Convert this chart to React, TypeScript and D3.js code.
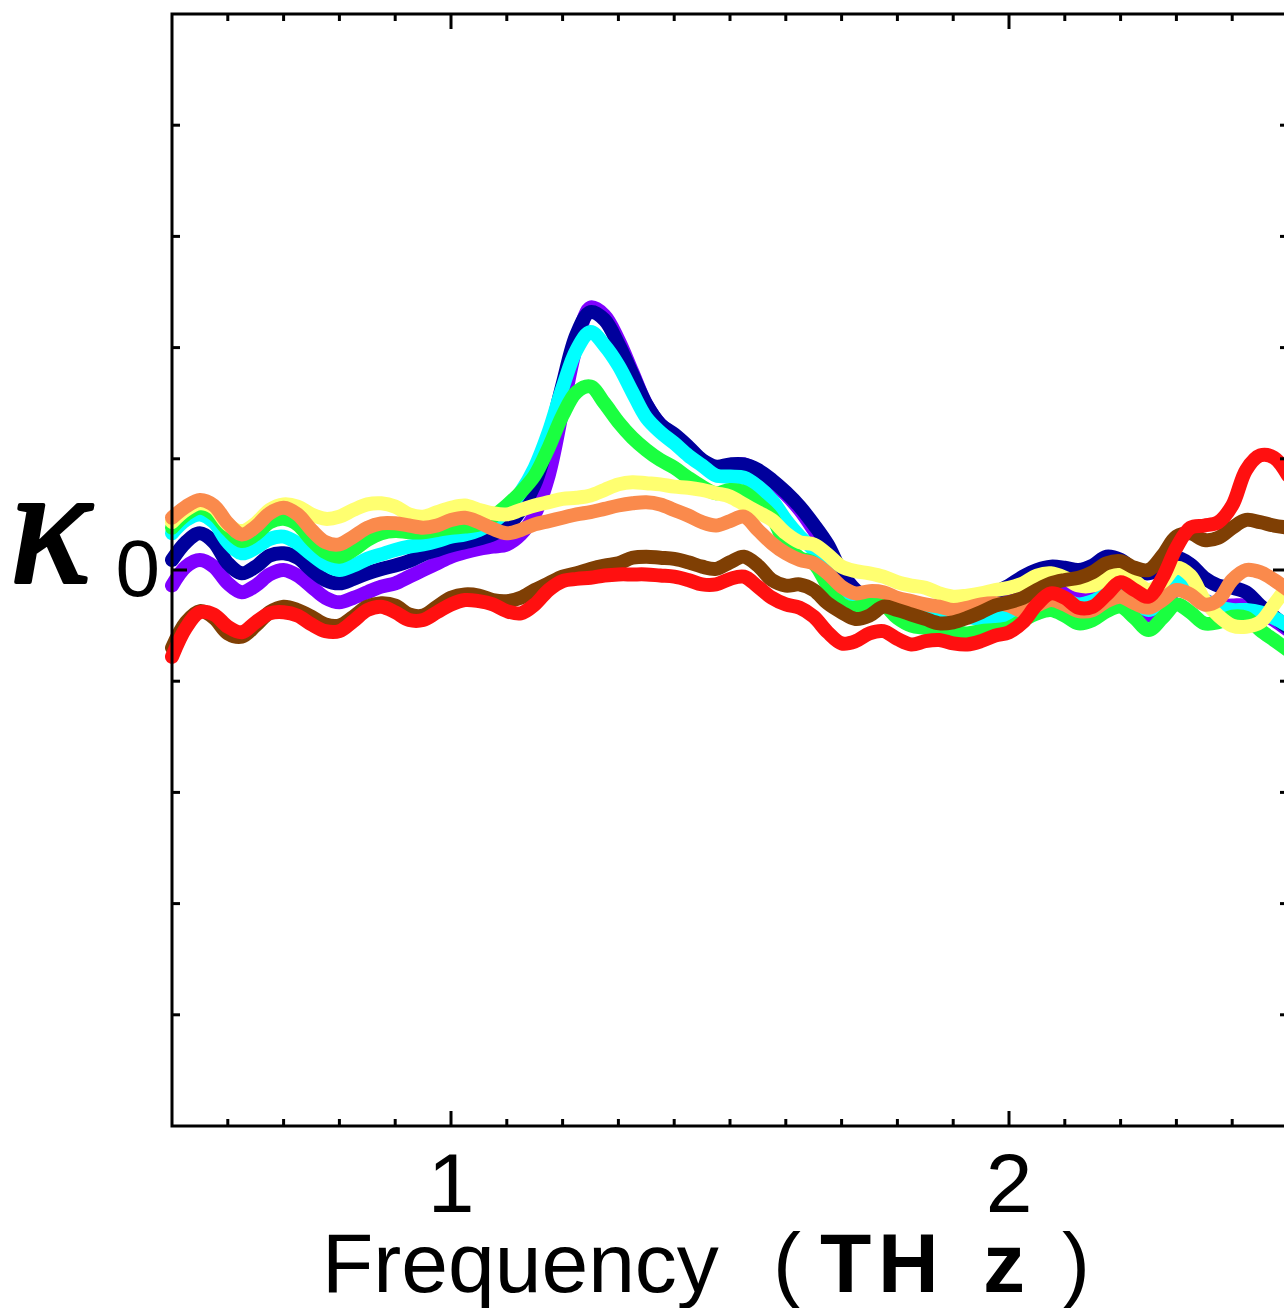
import React from 'react';
import * as d3 from 'd3';

// Frequency sampling grid (THz)
const frequency = [
  0.5, 0.525, 0.55, 0.575, 0.6, 0.625, 0.65, 0.675, 0.7, 0.725,
  0.75, 0.775, 0.8, 0.825, 0.85, 0.875, 0.9, 0.925, 0.95, 0.975,
  1.0, 1.025, 1.05, 1.075, 1.1, 1.125, 1.15, 1.175, 1.2, 1.225,
  1.25, 1.275, 1.3, 1.325, 1.35, 1.375, 1.4, 1.425, 1.45, 1.475,
  1.5, 1.525, 1.55, 1.575, 1.6, 1.625, 1.65, 1.675, 1.7, 1.725,
  1.75, 1.775, 1.8, 1.825, 1.85, 1.875, 1.9, 1.925, 1.95, 1.975,
  2.0, 2.025, 2.05, 2.075, 2.1, 2.125, 2.15, 2.175, 2.2, 2.225,
  2.25, 2.275, 2.3, 2.325, 2.35, 2.375, 2.4, 2.425, 2.45, 2.475,
  2.5,
];

const purple = [
  -0.14, 0.03, 0.09, 0.03, -0.12, -0.20, -0.14, -0.04, 0, -0.05,
  -0.15, -0.25, -0.29, -0.25, -0.20, -0.15, -0.12, -0.06, 0, 0.06,
  0.12, 0.16, 0.19, 0.21, 0.23, 0.32, 0.50, 0.85, 1.44, 2.02,
  2.36, 2.29, 2.07, 1.78, 1.49, 1.31, 1.21, 1.10, 0.98, 0.92,
  0.94, 0.95, 0.89, 0.79, 0.68, 0.54, 0.36, 0.16, -0.07, -0.23,
  -0.30, -0.33, -0.34, -0.34, -0.35, -0.36, -0.36, -0.33, -0.30, -0.25,
  -0.20, -0.14, -0.09, -0.09, -0.14, -0.20, -0.23, -0.23, -0.22, -0.32,
  -0.41, -0.32, -0.18, -0.20, -0.27, -0.32, -0.32, -0.32, -0.38, -0.45,
  -0.54,
];

const navy = [
  0.09, 0.25, 0.33, 0.25, 0.06, -0.03, 0.03, 0.13, 0.15, 0.11,
  0, -0.09, -0.12, -0.08, -0.03, 0.01, 0.04, 0.08, 0.14, 0.18,
  0.22, 0.25, 0.28, 0.32, 0.39, 0.54, 0.77, 1.17, 1.67, 2.12,
  2.32, 2.25, 2.03, 1.76, 1.49, 1.31, 1.22, 1.11, 0.99, 0.93,
  0.95, 0.95, 0.90, 0.81, 0.70, 0.57, 0.41, 0.23, -0.02, -0.18,
  -0.27, -0.31, -0.32, -0.32, -0.32, -0.33, -0.33, -0.29, -0.24, -0.20,
  -0.14, -0.06, 0, 0.03, 0.02, 0, 0.04, 0.12, 0.09, 0,
  -0.03, 0.03, 0.11, 0.05, -0.07, -0.14, -0.16, -0.20, -0.32, -0.42,
  -0.52,
];

const cyan = [
  0.33, 0.45, 0.50, 0.43, 0.25, 0.15, 0.20, 0.28, 0.30, 0.24,
  0.14, 0.05, 0, 0.04, 0.10, 0.14, 0.18, 0.21, 0.23, 0.26,
  0.30, 0.32, 0.36, 0.43, 0.54, 0.70, 0.92, 1.24, 1.64, 1.98,
  2.14, 2.02, 1.84, 1.60, 1.37, 1.24, 1.14, 1.03, 0.94, 0.85,
  0.84, 0.83, 0.75, 0.63, 0.45, 0.30, 0.18, -0.02, -0.18, -0.23,
  -0.27, -0.30, -0.32, -0.33, -0.34, -0.37, -0.40, -0.42, -0.44, -0.44,
  -0.40, -0.32, -0.27, -0.24, -0.27, -0.31, -0.28, -0.22, -0.21, -0.28,
  -0.36, -0.27, -0.11, -0.14, -0.27, -0.33, -0.36, -0.36, -0.38, -0.43,
  -0.50,
];

const green = [
  0.38, 0.50, 0.56, 0.50, 0.36, 0.26, 0.32, 0.43, 0.46, 0.41,
  0.27, 0.16, 0.12, 0.18, 0.27, 0.33, 0.35, 0.34, 0.34, 0.36,
  0.38, 0.39, 0.41, 0.48, 0.58, 0.70, 0.85, 1.10, 1.39, 1.60,
  1.65, 1.50, 1.33, 1.19, 1.08, 0.99, 0.92, 0.83, 0.75, 0.69,
  0.72, 0.70, 0.60, 0.48, 0.23, 0.11, 0.06, -0.14, -0.31, -0.34,
  -0.27, -0.31, -0.43, -0.50, -0.52, -0.54, -0.56, -0.57, -0.55, -0.54,
  -0.52, -0.45, -0.39, -0.36, -0.41, -0.48, -0.45, -0.37, -0.33, -0.43,
  -0.54, -0.43, -0.31, -0.38, -0.48, -0.47, -0.42, -0.43, -0.54, -0.63,
  -0.72,
];

const yellow = [
  0.43, 0.54, 0.60, 0.56, 0.41, 0.35, 0.42, 0.54, 0.59, 0.57,
  0.50, 0.46, 0.48, 0.54, 0.59, 0.60, 0.57, 0.50, 0.48, 0.52,
  0.56, 0.58, 0.54, 0.51, 0.50, 0.54, 0.58, 0.61, 0.64, 0.65,
  0.67, 0.72, 0.77, 0.79, 0.78, 0.77, 0.75, 0.74, 0.72, 0.69,
  0.66, 0.59, 0.52, 0.45, 0.33, 0.25, 0.23, 0.14, 0.03, -0.01,
  -0.03, -0.06, -0.11, -0.14, -0.16, -0.21, -0.24, -0.23, -0.21, -0.18,
  -0.16, -0.12, -0.05, -0.03, -0.07, -0.14, -0.14, -0.07, -0.03, -0.10,
  -0.18, -0.11, 0.02, -0.05, -0.27, -0.41, -0.50, -0.51, -0.47, -0.31,
  -0.14,
];

const orange = [
  0.47, 0.57, 0.63, 0.58, 0.42, 0.32, 0.39, 0.51, 0.56, 0.50,
  0.36, 0.25, 0.23, 0.30, 0.38, 0.42, 0.42, 0.40, 0.38, 0.40,
  0.45, 0.47, 0.43, 0.37, 0.33, 0.36, 0.41, 0.44, 0.47, 0.50,
  0.52, 0.55, 0.58, 0.60, 0.61, 0.59, 0.54, 0.49, 0.43, 0.40,
  0.44, 0.48, 0.36, 0.24, 0.15, 0.09, 0.06, -0.03, -0.15, -0.21,
  -0.19, -0.20, -0.25, -0.28, -0.31, -0.33, -0.36, -0.34, -0.31, -0.30,
  -0.32, -0.37, -0.32, -0.27, -0.31, -0.37, -0.36, -0.28, -0.24, -0.30,
  -0.34, -0.27, -0.18, -0.22, -0.31, -0.27, -0.09, 0, -0.02, -0.09,
  -0.18,
];

const brown = [
  -0.70, -0.47, -0.37, -0.43, -0.57, -0.60, -0.50, -0.38, -0.33, -0.36,
  -0.42, -0.49, -0.50, -0.42, -0.33, -0.30, -0.32, -0.40, -0.41, -0.33,
  -0.25, -0.22, -0.23, -0.27, -0.28, -0.25, -0.18, -0.12, -0.06, -0.03,
  0.01, 0.04, 0.06, 0.11, 0.12, 0.11, 0.10, 0.07, 0.03, 0.01,
  0.07, 0.12, 0.04, -0.09, -0.14, -0.13, -0.18, -0.30, -0.38, -0.44,
  -0.41, -0.33, -0.36, -0.40, -0.44, -0.48, -0.47, -0.43, -0.38, -0.32,
  -0.29, -0.25, -0.18, -0.12, -0.09, -0.07, -0.02, 0.06, 0.08, 0.02,
  0, 0.13, 0.30, 0.33, 0.27, 0.29, 0.38, 0.45, 0.43, 0.40,
  0.38,
];

const red = [
  -0.78, -0.52, -0.38, -0.40, -0.51, -0.56, -0.47, -0.39, -0.38, -0.41,
  -0.49, -0.55, -0.55, -0.46, -0.36, -0.33, -0.38, -0.45, -0.45, -0.38,
  -0.31, -0.27, -0.28, -0.31, -0.37, -0.39, -0.31, -0.18, -0.10, -0.08,
  -0.07, -0.05, -0.04, -0.04, -0.04, -0.05, -0.06, -0.09, -0.13, -0.13,
  -0.08, -0.06, -0.15, -0.25, -0.31, -0.34, -0.42, -0.56, -0.66, -0.64,
  -0.57, -0.55, -0.62, -0.67, -0.64, -0.63, -0.66, -0.67, -0.64, -0.59,
  -0.56, -0.47, -0.31, -0.21, -0.25, -0.34, -0.33, -0.22, -0.11, -0.18,
  -0.24, -0.07, 0.20, 0.38, 0.40, 0.43, 0.58, 0.90, 1.03, 1.01,
  0.85,
];

const seriesList = [
  { name: 'purple', values: purple, color: '#8000ff' },
  { name: 'navy', values: navy, color: '#00009c' },
  { name: 'cyan', values: cyan, color: '#00ffff' },
  { name: 'green', values: green, color: '#1aff40' },
  { name: 'yellow', values: yellow, color: '#ffff70' },
  { name: 'orange', values: orange, color: '#fa8a4c' },
  { name: 'brown', values: brown, color: '#7f3f04' },
  { name: 'red', values: red, color: '#ff1010' },
];

const xMajorTicks = [1, 2];
const xMajorLabels = ['1', '2'];
const xMinorTicks = [0.6, 0.7, 0.8, 0.9, 1.1, 1.2, 1.3, 1.4, 1.5, 1.6, 1.7, 1.8, 1.9, 2.1, 2.2, 2.3, 2.4];
const yTicks = [-4, -3, -2, -1, 0, 1, 2, 3, 4];
const yLabelTick = 0;
const yLabelText = '0';
const xDomain = [0.5, 2.5];
const yDomain = [-5, 5];

const W = 1284;
const H = 1308;
const left = 172;
const right = 1288;
const top = 14;
const bottom = 1126;

export default function App() {
  const x = d3.scaleLinear().domain(xDomain).range([left, right]);
  const y = d3.scaleLinear().domain(yDomain).range([bottom, top]);
  const line = d3
    .line<number>()
    .x((_, i) => x(frequency[i]))
    .y((d) => y(d))
    .curve(d3.curveCatmullRom.alpha(0.5));

  const font = "'Liberation Sans', Arial, sans-serif";
  const tickW = 3;

  return (
    <svg
      width={W}
      height={H}
      style={{ position: 'absolute', left: 0, top: 0, background: '#fff' }}
    >
      <rect x={0} y={0} width={W} height={H} fill="#fff" />
      {seriesList.map((s) => (
        <path
          key={s.name}
          d={line(s.values) || ''}
          fill="none"
          stroke={s.color}
          strokeWidth={14}
          strokeLinejoin="round"
          strokeLinecap="round"
        />
      ))}
      {/* frame */}
      <rect
        x={left}
        y={top}
        width={right - left}
        height={bottom - top}
        fill="none"
        stroke="#000"
        strokeWidth={3}
      />
      {/* x ticks */}
      {xMinorTicks.map((t) => (
        <g key={'xm' + t}>
          <line x1={x(t)} x2={x(t)} y1={bottom} y2={bottom - 7} stroke="#000" strokeWidth={tickW} />
          <line x1={x(t)} x2={x(t)} y1={top} y2={top + 7} stroke="#000" strokeWidth={tickW} />
        </g>
      ))}
      {xMajorTicks.map((t, i) => (
        <g key={'xM' + t}>
          <line x1={x(t)} x2={x(t)} y1={bottom} y2={bottom - 15} stroke="#000" strokeWidth={tickW} />
          <line x1={x(t)} x2={x(t)} y1={top} y2={top + 15} stroke="#000" strokeWidth={tickW} />
          <text
            x={x(t)}
            y={1212}
            textAnchor="middle"
            fontFamily={font}
            fontSize={84}
            fill="#000"
          >
            {xMajorLabels[i]}
          </text>
        </g>
      ))}
      {/* y ticks */}
      {yTicks.map((t) => {
        const len = t === yLabelTick ? 15 : 8;
        return (
          <g key={'y' + t}>
            <line x1={left} x2={left + len} y1={y(t)} y2={y(t)} stroke="#000" strokeWidth={tickW} />
            <line x1={right} x2={right - len} y1={y(t)} y2={y(t)} stroke="#000" strokeWidth={tickW} />
          </g>
        );
      })}
      <text
        x={160}
        y={y(yLabelTick) + 26}
        textAnchor="end"
        fontFamily={font}
        fontSize={80}
        fill="#000"
      >
        {yLabelText}
      </text>
      {/* y axis symbol */}
      <text
        x={10}
        y={582}
        fontFamily="'Liberation Serif', 'Times New Roman', serif"
        fontStyle="italic"
        fontSize={168}
        fill="#000"
        stroke="#000"
        strokeWidth={4}
        strokeLinejoin="round"
      >
        κ
      </text>
      {/* x axis title */}
      <text y={1292} fontFamily={font} fontSize={84} fill="#000">
        <tspan x={322}>Frequency</tspan>
        <tspan x={773}>(</tspan>
        <tspan x={820} fontWeight="bold">T</tspan>
        <tspan x={878} fontWeight="bold">H</tspan>
        <tspan x={983} fontWeight="bold">z</tspan>
        <tspan x={1062}>)</tspan>
      </text>
    </svg>
  );
}
